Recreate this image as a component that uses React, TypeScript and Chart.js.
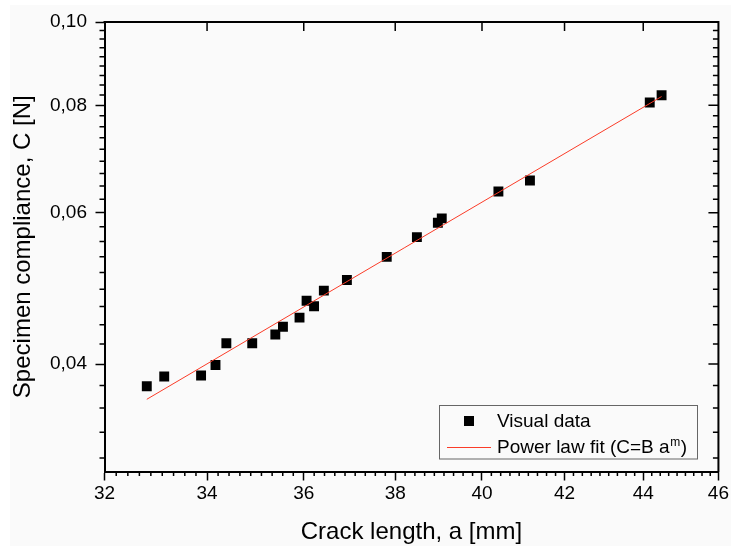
import React, { useEffect, useRef } from 'react';
import { Chart, registerables } from 'chart.js';

Chart.register(...registerables);

// ---- data ----
const crackLength = [32.81, 33.15, 33.88, 34.17, 34.39, 34.92, 35.40, 35.56, 35.91, 36.06, 36.22, 36.43, 36.93, 37.81, 38.49, 38.97, 39.06, 40.39, 41.15, 44.17, 44.48];
const compliance = [0.0377, 0.0387, 0.0388, 0.0399, 0.0423, 0.0423, 0.0433, 0.0442, 0.0453, 0.0474, 0.0467, 0.0487, 0.0501, 0.0533, 0.0562, 0.0584, 0.0591, 0.0635, 0.0654, 0.0806, 0.0822];
const fitLength = [32.81, 44.48];
const fitCompliance = [0.0364, 0.0819];

const xMajorTicks = [32, 34, 36, 38, 40, 42, 44, 46];
const yMajorTicks = [0.04, 0.06, 0.08, 0.1];
const xMinorCount = 8;
const yMinorCount = 8;
const xRange = [32, 46];
const yRange = [0.03, 0.1];

const xTitle = 'Crack length, a [mm]';
const yTitle = 'Specimen compliance, C [N]';
const legendData = 'Visual data';
const legendFitBase = 'Power law fit (C=B a';
const legendFitSup = 'm';
const legendFitEnd = ')';

const FONT = '"Liberation Sans", Arial, Helvetica, sans-serif';
const RED = 'rgb(250, 60, 40)';

const framePlugin = {
  id: 'frame',
  beforeDraw(chart: any) {
    const ctx = chart.ctx;
    ctx.save();
    ctx.fillStyle = '#ffffff';
    ctx.fillRect(0, 0, chart.width, chart.height);
    ctx.fillStyle = '#fafafa';
    ctx.fillRect(10, 5, chart.width - 10, chart.height - 5);
    ctx.restore();
  },
  afterDraw(chart: any) {
    const { ctx, chartArea, scales } = chart;
    const { left, right, top, bottom } = chartArea;
    const xs = scales.x;
    const ys = scales.y;
    ctx.save();
    ctx.strokeStyle = '#000';
    ctx.lineWidth = 2;
    ctx.beginPath();
    ctx.moveTo(left - 1, top);
    ctx.lineTo(right, top);
    ctx.lineTo(right, bottom + 1);
    ctx.stroke();

    ctx.lineWidth = 1.5;
    ctx.beginPath();
    // x minor ticks (bottom, outward)
    for (let i = 0; i < xMajorTicks.length - 1; i++) {
      const step = (xMajorTicks[i + 1] - xMajorTicks[i]) / (xMinorCount + 1);
      for (let k = 1; k <= xMinorCount; k++) {
        const px = xs.getPixelForValue(xMajorTicks[i] + k * step);
        ctx.moveTo(px, bottom);
        ctx.lineTo(px, bottom + 4.5);
      }
    }
    // x major ticks on top (inward)
    for (let i = 1; i < xMajorTicks.length - 1; i++) {
      const px = xs.getPixelForValue(xMajorTicks[i]);
      ctx.moveTo(px, top);
      ctx.lineTo(px, top + 9);
    }
    // y minor ticks (left outward, right inward)
    const yStep = (yMajorTicks[1] - yMajorTicks[0]) / (yMinorCount + 1);
    const yMinor: number[] = [];
    for (let v = yMajorTicks[0] - yStep; v > yRange[0] + 1e-6; v -= yStep) yMinor.push(v);
    for (let i = 0; i < yMajorTicks.length - 1; i++) {
      for (let k = 1; k <= yMinorCount; k++) yMinor.push(yMajorTicks[i] + k * yStep);
    }
    yMinor.forEach((v) => {
      const py = ys.getPixelForValue(v);
      ctx.moveTo(left, py);
      ctx.lineTo(left - 5, py);
      ctx.moveTo(right, py);
      ctx.lineTo(right - 5.5, py);
    });
    yMajorTicks.forEach((v) => {
      const py = ys.getPixelForValue(v);
      ctx.moveTo(right, py);
      ctx.lineTo(right - 10, py);
    });
    ctx.stroke();

    // legend
    const lx = 439.5, ly = 405.5, lw = 258, lh = 53.5;
    ctx.lineWidth = 1;
    ctx.strokeStyle = '#666';
    ctx.strokeRect(lx, ly, lw, lh);
    ctx.fillStyle = '#000';
    ctx.fillRect(464, 416, 10, 10);
    ctx.font = `19px ${FONT}`;
    ctx.textAlign = 'left';
    ctx.textBaseline = 'alphabetic';
    ctx.fillText(legendData, 497, 426.5);
    ctx.strokeStyle = RED;
    ctx.beginPath();
    ctx.moveTo(447, 447.5);
    ctx.lineTo(491, 447.5);
    ctx.stroke();
    ctx.fillStyle = '#000';
    ctx.fillText(legendFitBase, 497, 453.3);
    const w1 = ctx.measureText(legendFitBase).width;
    ctx.font = `12px ${FONT}`;
    ctx.fillText(legendFitSup, 497 + w1 + 0.5, 445.5);
    const w2 = ctx.measureText(legendFitSup).width;
    ctx.font = `19px ${FONT}`;
    ctx.fillText(legendFitEnd, 497 + w1 + w2 + 1, 453.3);
    ctx.restore();
  },
};

export default function App() {
  const canvasRef = useRef<HTMLCanvasElement | null>(null);

  useEffect(() => {
    const canvas = canvasRef.current;
    if (!canvas) return;
    const chart = new Chart(canvas, {
      type: 'scatter',
      data: {
        datasets: [
          {
            type: 'line',
            label: 'fit',
            data: fitLength.map((a, i) => ({ x: a, y: fitCompliance[i] })),
            borderColor: RED,
            borderWidth: 1,
            pointRadius: 0,
            fill: false,
            tension: 0,
          } as any,
          {
            label: 'Visual data',
            data: crackLength.map((a, i) => ({ x: a, y: compliance[i] })),
            pointStyle: 'rect',
            pointRadius: 7,
            backgroundColor: '#000',
            borderColor: '#000',
            borderWidth: 0,
          },
        ],
      },
      options: {
        responsive: false,
        animation: false,
        events: [],
        layout: { padding: { left: 0, top: 22, right: 11, bottom: 0 } },
        plugins: {
          legend: { display: false },
          tooltip: { enabled: false },
          title: { display: false },
        },
        scales: {
          x: {
            type: 'logarithmic',
            min: xRange[0],
            max: xRange[1],
            afterBuildTicks: (s: any) => {
              s.ticks = xMajorTicks.map((v) => ({ value: v }));
            },
            afterFit: (s: any) => {
              s.height = 74.5;
            },
            ticks: {
              callback: (v: any) => String(v),
              font: { family: FONT, size: 19 },
              color: '#000',
              padding: 2,
              maxRotation: 0,
              autoSkip: false,
            },
            grid: {
              drawOnChartArea: false,
              drawTicks: true,
              tickLength: 9,
              tickWidth: 1.5,
              tickColor: '#000',
            },
            border: { display: true, color: '#000', width: 2 },
            title: {
              display: true,
              text: xTitle,
              color: '#000',
              font: { family: FONT, size: 24, lineHeight: 1 },
              padding: { top: 0, bottom: 1.5 },
            },
          },
          y: {
            type: 'logarithmic',
            min: yRange[0],
            max: yRange[1],
            afterBuildTicks: (s: any) => {
              s.ticks = yMajorTicks.map((v) => ({ value: v }));
            },
            afterFit: (s: any) => {
              s.width = 104.5;
            },
            ticks: {
              callback: (v: any) => Number(v).toFixed(2).replace('.', ','),
              font: { family: FONT, size: 19 },
              color: '#000',
              padding: 8.5,
              autoSkip: false,
            },
            grid: {
              drawOnChartArea: false,
              drawTicks: true,
              tickLength: 9,
              tickWidth: 1.5,
              tickColor: '#000',
            },
            border: { display: true, color: '#000', width: 2 },
            title: {
              display: true,
              text: yTitle,
              color: '#000',
              font: { family: FONT, size: 24, lineHeight: 1 },
              padding: { top: 11.6, bottom: 0 },
            },
          },
        },
      } as any,
      plugins: [framePlugin],
    });
    return () => chart.destroy();
  }, []);

  return (
    <div style={{ position: 'fixed', left: 0, top: 0, width: 731, height: 546 }}>
      <canvas ref={canvasRef} width={731} height={546} style={{ display: 'block' }} />
    </div>
  );
}
